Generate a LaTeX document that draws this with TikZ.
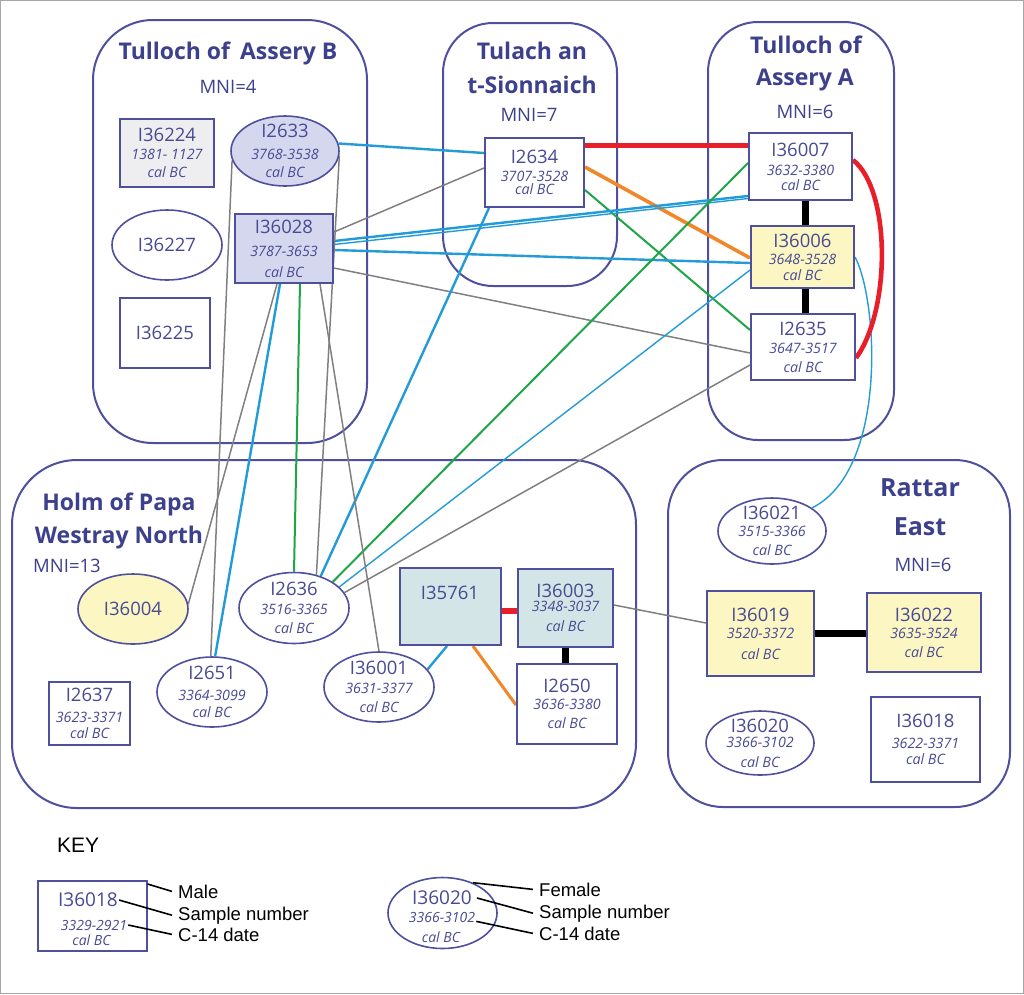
\documentclass[tikz,border=0pt]{standalone}
\usepackage{fontspec}
\setmainfont{Open Sans}
\newfontfamily\keyfont{Liberation Sans}
\usetikzlibrary{shapes.geometric,calc}
\definecolor{ttlc}{RGB}{61,64,140}
\definecolor{txtc}{RGB}{72,74,148}
\definecolor{edgec}{RGB}{78,80,158}
\definecolor{lav}{RGB}{213,215,238}
\definecolor{lgray}{RGB}{238,238,241}
\definecolor{yel}{RGB}{251,246,194}
\definecolor{tealc}{RGB}{211,229,230}
\definecolor{cblue}{RGB}{35,155,215}
\definecolor{cgreen}{RGB}{30,165,70}
\definecolor{corange}{RGB}{240,135,40}
\definecolor{cred}{RGB}{232,30,40}
\definecolor{cgray}{RGB}{128,128,128}
\pgfdeclarelayer{grplayer}\pgfdeclarelayer{lnklayer}
\pgfsetlayers{grplayer,lnklayer,main}
\newcommand{\dtf}{\fontsize{14.3}{16}\selectfont\itshape}
\newcommand{\ttlf}{\fontsize{23}{26}\selectfont\bfseries}
\NewDocumentCommand{\smp}{O{3pt}O{1pt}mm}{{\upshape\fontsize{18.5}{20}\selectfont #3}\\[#1]#4\\[#2]cal BC}
\newcommand{\oid}[1]{{\upshape\fontsize{18.5}{20}\selectfont #1}}
\tikzset{
  grp/.style={draw=edgec, line width=2pt, rounded corners=#1},
  malebox/.style={draw=edgec, line width=2pt, rectangle, inner sep=0pt, align=center, text=txtc, font=\dtf},
  femalebox/.style={draw=edgec, line width=1.6pt, ellipse, inner sep=-8pt, align=center, text=txtc, font=\dtf},
  ttlstyle/.style={font=\ttlf, text=ttlc, anchor=base, inner sep=0pt},
  mnistyle/.style={font=\fontsize{18.5}{22}\selectfont, text=ttlc, anchor=base, inner sep=0pt},
  cb/.style={draw=cblue, line width=2.4pt},
  cbt/.style={draw=cblue, line width=1.4pt},
  cg/.style={draw=cgreen, line width=2pt},
  co/.style={draw=corange, line width=3.6pt},
  cr/.style={draw=cred, line width=5pt},
  cy/.style={draw=cgray, line width=1.5pt},
  ck/.style={draw=black, line width=7.5pt},
  keylab/.style={font=\keyfont\fontsize{18.5}{22}\selectfont, anchor=base west, inner xsep=6pt, inner ysep=0pt},
  keyline/.style={draw=black, line width=1.6pt},
}
\begin{document}
\begin{tikzpicture}[x=1pt,y=-1pt]
\useasboundingbox (0,0) rectangle (1024,994);

% ---------- groups ----------
\begin{pgfonlayer}{grplayer}
\fill[white] (0,0) rectangle (1024,994);
\draw[gray!70, line width=1pt] (0.5,0.5) rectangle (1023.5,993.5);
\draw[grp=60pt] (93,20) rectangle (367,443);
\draw[grp=50pt] (443,23) rectangle (617,286);
\draw[grp=50pt] (708,22) rectangle (894,440);
\draw[grp=65pt] (12,460) rectangle (636,808);
\draw[grp=55pt] (668,460) rectangle (1010,807);
\end{pgfonlayer}

% ---------- titles ----------
\node[ttlstyle] (tB1) at (228,59) {Tulloch of\hspace{4pt} Assery B};
\node[mnistyle] (mB) at (228,93) {MNI=4};
\node[ttlstyle] (tT1) at (532,59) {Tulach an};
\node[ttlstyle] (tT2) at (532,93) {t-Sionnaich};
\node[mnistyle] (mT) at (529,121) {MNI=7};
\node[ttlstyle] (tA1) at (806,53) {Tulloch of};
\node[ttlstyle] (tA2) at (805,85) {Assery A};
\node[mnistyle] (mA) at (805,118) {MNI=6};
\node[ttlstyle] (tH1) at (119,510) {Holm of Papa};
\node[ttlstyle] (tH2) at (119,543) {Westray North};
\node[mnistyle, anchor=base west] (mH) at (33,572) {MNI=13};
\node[ttlstyle, font=\fontsize{25}{28}\selectfont\bfseries] (tR1) at (920,496) {Rattar};
\node[ttlstyle, font=\fontsize{25}{28}\selectfont\bfseries] (tR2) at (920,535) {East};
\node[mnistyle] (mR) at (923,571) {MNI=6};

% ---------- Tulloch of Assery B ----------
\node[malebox, fill=lgray, minimum width=94pt, minimum height=68pt] (I36224) at (167,153) {\smp[2pt][2pt]{I36224}{1381- 1127}};
\node[femalebox, fill=lav, minimum width=108pt, minimum height=70pt] (I2633) at (285,151) {\smp[6pt][2pt]{I2633}{3768-3538}};
\node[femalebox, minimum width=110pt, minimum height=70pt] (I36227) at (167,245) {\oid{I36227}};
\node[malebox, fill=lav, minimum width=98pt, minimum height=69pt] (I36028) at (284,248.5) {\smp[7pt][5pt]{I36028}{3787-3653}};
\node[malebox, minimum width=90pt, minimum height=70pt] (I36225) at (165,333) {\oid{I36225}};

% ---------- Tulach an t-Sionnaich ----------
\node[malebox, minimum width=99pt, minimum height=69pt] (I2634) at (534.5,172.5) {\smp[2pt][-3pt]{I2634}{3707-3528}};

% ---------- Tulloch of Assery A ----------
\node[malebox, minimum width=103pt, minimum height=67pt] (I36007) at (800.5,166.5) {\smp[3pt][-1pt]{I36007}{3632-3380}};
\node[malebox, fill=yel, minimum width=103pt, minimum height=62pt] (I36006) at (802.5,257) {\smp[1pt][0pt]{I36006}{3648-3528}};
\node[malebox, minimum width=104pt, minimum height=66pt] (I2635) at (803,347) {\smp[2pt][3pt]{I2635}{3647-3517}};

% ---------- Holm of Papa Westray North ----------
\node[femalebox, fill=yel, minimum width=110pt, minimum height=70pt] (I36004) at (133,609) {\oid{I36004}};
\node[femalebox, minimum width=110pt, minimum height=71pt] (I2636) at (294,608) {\smp[3pt][3pt]{I2636}{3516-3365}};
\node[femalebox, minimum width=110pt, minimum height=70pt] (I2651) at (212,692) {\smp[5pt][1pt]{I2651}{3364-3099}};
\node[malebox, minimum width=81pt, minimum height=63pt] (I2637) at (89.5,713.5) {\smp[5pt][0pt]{I2637}{3623-3371}};
\node[femalebox, minimum width=110pt, minimum height=70pt] (I36001) at (379,687) {\smp[3pt][3pt]{I36001}{3631-3377}};
\node[malebox, fill=tealc, minimum width=101pt, minimum height=77pt] (I35761) at (450.5,606.5) {};
\node[text=txtc, font=\fontsize{18.5}{20}\selectfont, inner sep=0pt] (I35761t) at (450,593) {I35761};
\node[malebox, fill=tealc, minimum width=95pt, minimum height=78pt] (I36003) at (565.5,608) {\smp[-2pt][4pt]{I36003}{3348-3037}};
\node[malebox, minimum width=100pt, minimum height=80pt] (I2650) at (567,704) {\smp[1pt][3pt]{I2650}{3636-3380}};

% ---------- Rattar East ----------
\node[femalebox, minimum width=108pt, minimum height=66pt] (I36021) at (772,531) {\smp[1pt][3pt]{I36021}{3515-3366}};
\node[malebox, fill=yel, minimum width=107pt, minimum height=85pt] (I36019) at (760.5,633.5) {\smp[1pt][5pt]{I36019}{3520-3372}};
\node[malebox, fill=yel, minimum width=114pt, minimum height=79pt] (I36022) at (924,632.5) {\smp[1pt][3pt]{I36022}{3635-3524}};
\node[femalebox, minimum width=108pt, minimum height=64pt] (I36020) at (760,743) {\smp[-1pt][4pt]{I36020}{3366-3102}};
\node[malebox, minimum width=109pt, minimum height=85pt] (I36018) at (925.5,739.5) {\smp[5pt][0pt]{I36018}{3622-3371}};

% ---------- connectors ----------
\begin{pgfonlayer}{lnklayer}
\draw[cb] (I2633.8) -- ([yshift=19.5pt]I2634.west);
\draw[cr] ([yshift=27.5pt]I2634.east) -- ([yshift=21.5pt]I36007.west);
\draw[co] ([yshift=5.5pt]I2634.east) -- ([yshift=-1pt]I36006.west);
\draw[cg] ([yshift=-17.5pt]I2634.east) -- ([yshift=17pt]I2635.west);
\draw[cy] ([yshift=16.5pt]I36028.east) -- ([yshift=4.5pt]I2634.west);
\draw[cb] ([yshift=7.5pt]I36028.east) -- ([yshift=-29.5pt]I36007.west);
\draw[cbt] ([yshift=4pt]I36028.east) -- ([yshift=-32pt]I36007.west);
\draw[cb] ([yshift=-1.5pt]I36028.east) -- ([yshift=-6pt]I36006.west);
\draw[cy] ([yshift=-19.5pt]I36028.east) -- ([yshift=-6pt]I2635.west);
\draw[cy] (I2636.17) -- ([yshift=-18pt]I2635.west);
\draw[cg] (I2636.34) -- ([yshift=3.5pt]I36007.west);
\draw[cbt] (I2636.25) -- ([yshift=-13pt]I36006.west);
\draw[cb] (I2636.50) -- ([xshift=5pt]I2634.south west);
\draw[cy] (I2633.-5) -- (I2636.56);
\draw[cg] ([xshift=16pt]I36028.south) -- (I2636.north);
\draw[cy] ([xshift=36pt]I36028.south) -- (I36001.north);
\draw[cy] (I2633.190) -- (I2651.92);
\draw[cy] ([xshift=-7pt]I36028.south) -- (I36004.5);
\draw[cb] ([xshift=-4pt]I36028.south) -- (I2651.85);
\draw[cbt] (I36006.east) .. controls (878,300) and (888,470) .. (I36021.30);
\draw[cr, line width=4.6pt] ([yshift=6.5pt]I36007.east) .. controls (891,190) and (891,310) .. ([yshift=-11pt]I2635.east);
\draw[ck] ([xshift=5pt]I36007.south) -- ([xshift=3pt]I36006.north);
\draw[ck] ([xshift=3pt]I36006.south) -- ([xshift=2.5pt]I2635.north);
\draw[cr, line width=5.5pt] ([yshift=-4.5pt]I35761.east) -- ([yshift=-3pt]I36003.west);
\draw[ck, line width=7pt] ([xshift=-0.5pt]I36003.south) -- ([xshift=-2pt]I2650.north);
\draw[cb] ([xshift=-3.5pt]I35761.south) -- (I36001.20);
\draw[co, line width=3pt] ([xshift=22.5pt]I35761.south) -- ([yshift=-1pt]I2650.west);
\draw[cy] ([yshift=3pt]I36003.east) -- ([yshift=10.5pt]I36019.west);
\draw[ck] (I36019.east) -- (I36019.east -| I36022.west);
\end{pgfonlayer}

% ---------- key ----------
\node[font=\keyfont\fontsize{21}{24}\selectfont, anchor=base west, inner sep=0pt] (key) at (57,852) {KEY};
\node[draw=edgec, line width=2pt, rectangle, minimum width=109pt, minimum height=70pt, inner sep=0pt] (krect) at (92,916) {};
\node[text=txtc, font=\fontsize{19}{22}\selectfont, inner sep=1pt] (kid) at (88,900) {I36018};
\node[text=txtc, font=\fontsize{14}{16}\selectfont\itshape, inner sep=1pt] (kdate) at (94,925) {3329-2921};
\node[text=txtc, font=\fontsize{14}{16}\selectfont\itshape, inner sep=1pt] (kcal) at (91.5,940) {cal BC};
\node[keylab] (kmale) at (172,898) {Male};
\node[keylab] (ksample) at (172,920) {Sample number};
\node[keylab] (kc14) at (172,941) {C-14 date};
\draw[keyline] ([yshift=-4pt]krect.north east) -- (kmale.west);
\draw[keyline] (kid.east) -- (ksample.west);
\draw[keyline] (kdate.east) -- (kc14.west);

\node[draw=edgec, line width=1.6pt, ellipse, minimum width=109pt, minimum height=71pt, inner sep=0pt] (kell) at (442.5,913) {};
\node[text=txtc, font=\fontsize{19}{22}\selectfont, inner sep=1pt] (keid) at (442,898) {I36020};
\node[text=txtc, font=\fontsize{14}{16}\selectfont\itshape, inner sep=1pt] (kedate) at (442,917) {3366-3102};
\node[text=txtc, font=\fontsize{14}{16}\selectfont\itshape, inner sep=1pt] (kecal) at (441,937) {cal BC};
\node[keylab] (kfemale) at (533,896) {Female};
\node[keylab] (kesample) at (533,918) {Sample number};
\node[keylab] (kec14) at (533,940) {C-14 date};
\draw[keyline] (kell.45) -- (kfemale.west);
\draw[keyline] ([xshift=4pt]keid.east) -- (kesample.west);
\draw[keyline] ([yshift=2pt]kedate.south east) -- (kec14.west);
\end{tikzpicture}
\end{document}
